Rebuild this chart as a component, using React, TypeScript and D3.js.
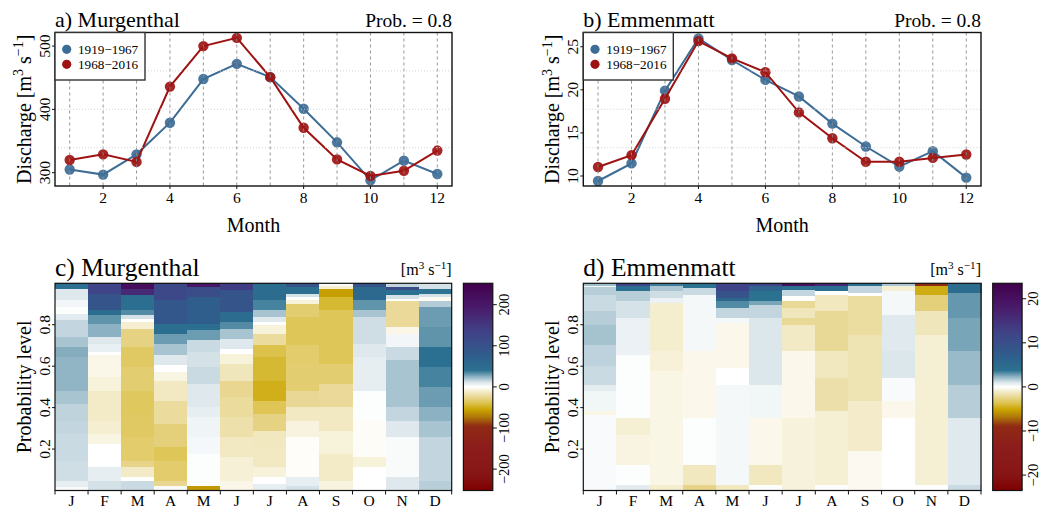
import React from "react";
import * as d3 from "d3";

const FONT = "'Liberation Serif', 'Times New Roman', Times, serif";

// Months for the regime curves and the letters used on the heatmap axis
const months = [1, 2, 3, 4, 5, 6, 7, 8, 9, 10, 11, 12];
const monthLetters = ["J", "F", "M", "A", "M", "J", "J", "A", "S", "O", "N", "D"];
const periods = ["1919\u22121967", "1968\u22122016"];

// Monthly discharge at probability 0.8 [m3 s-1]
const murgEarly = [305, 297, 329, 379, 448, 472, 451, 401, 348, 288, 319, 298];
const murgLate = [320, 329, 317, 436, 500, 513, 451, 371, 321, 295, 303, 335];
const emmeEarly = [9.42, 11.46, 19.9, 25.96, 23.46, 21.15, 19.23, 16.08, 13.42, 11.08, 12.88, 9.81];
const emmeLate = [11.04, 12.42, 18.96, 25.65, 23.65, 22.04, 17.38, 14.38, 11.65, 11.65, 12.1, 12.5];

const murgYTicks = [300, 400, 500];
const emmeYTicks = [10, 15, 20, 25];
const monthTicks = [2, 4, 6, 8, 10, 12];
const probTicks = [0.2, 0.4, 0.6, 0.8];
const murgBarTicks = [-200, -100, 0, 100, 200];
const emmeBarTicks = [-20, -10, 0, 10, 20];

// Change of the monthly quantile (1968-2016 minus 1919-1967), per month as
// [upper probability of the band, change] pairs, bands stacked from 0 upwards
const murgDiff: [number, number][][] = [
  [[0.016, 2], [0.048, 8], [0.145, 13], [0.274, 14], [0.339, 15], [0.419, 16], [0.484, 20], [0.548, 24], [0.645, 24], [0.694, 26], [0.742, 20], [0.823, 15], [0.855, 9], [0.887, 1], [0.919, 4], [0.976, 10], [1.0, 42]],
  [[0.048, 12], [0.113, 8], [0.226, 0], [0.274, -6], [0.339, -10], [0.484, -12], [0.548, -8], [0.653, -5], [0.669, 0], [0.71, 7], [0.742, 10], [0.806, 25], [0.847, 32], [0.871, 48], [0.952, 95], [1.0, 130]],
  [[0.048, 14], [0.065, 0], [0.113, -12], [0.145, -27], [0.258, -33], [0.371, -35], [0.484, -36], [0.597, -32], [0.694, -35], [0.782, -28], [0.815, -10], [0.831, 0], [0.847, 12], [0.871, 34], [0.944, 46], [0.976, 170], [1.0, 220]],
  [[0.024, 2], [0.048, -25], [0.145, -33], [0.21, -37], [0.323, -30], [0.435, -22], [0.532, -13], [0.573, -6], [0.605, 0], [0.653, 10], [0.71, 20], [0.758, 30], [0.806, 46], [0.919, 90], [1.0, 120]],
  [[0.024, -60], [0.048, -2], [0.177, 1], [0.258, 3], [0.355, 5], [0.403, 8], [0.516, 10], [0.597, 14], [0.669, 12], [0.726, 14], [0.774, 30], [0.806, 45], [0.935, 75], [0.984, 110], [1.0, 200]],
  [[0.048, -5], [0.161, -9], [0.258, -13], [0.355, -19], [0.452, -22], [0.532, -25], [0.613, -15], [0.661, -8], [0.685, 0], [0.734, 10], [0.782, 20], [0.815, 34], [0.863, 48], [0.968, 95], [1.0, 140]],
  [[0.032, 8], [0.065, 0], [0.113, -8], [0.21, -13], [0.29, -14], [0.371, -28], [0.435, -38], [0.532, -50], [0.645, -45], [0.702, -40], [0.758, -22], [0.798, -8], [0.815, 0], [0.839, 10], [0.871, 20], [0.919, 36], [1.0, 48]],
  [[0.024, 12], [0.065, 8], [0.258, -1], [0.339, -7], [0.403, -13], [0.484, -24], [0.613, -32], [0.702, -33], [0.839, -37], [0.903, -32], [0.919, -8], [0.935, 0], [0.952, 12], [0.984, 45], [1.0, 95]],
  [[0.048, -7], [0.177, -12], [0.29, -8], [0.403, -13], [0.516, -23], [0.613, -32], [0.871, -37], [0.935, -45], [0.976, -58], [0.99, -10], [1.0, 2]],
  [[0.113, 0], [0.161, -8], [0.339, -2], [0.484, 1], [0.645, 8], [0.71, 10], [0.839, 13], [0.871, 20], [0.919, 32], [0.984, 55], [1.0, 95]],
  [[0.065, 10], [0.258, 2], [0.339, 10], [0.403, 15], [0.629, 20], [0.694, 14], [0.758, 4], [0.79, -5], [0.916, -23], [0.927, 0], [0.944, 12], [0.968, 42], [0.984, 110], [1.0, 15]],
  [[0.048, 17], [0.258, 15], [0.339, 20], [0.403, 25], [0.5, 30], [0.597, 36], [0.694, 43], [0.79, 32], [0.887, 30], [0.916, 18], [0.935, -3], [0.952, 12], [0.976, 40], [1.0, 12]],
];

const emmeDiff: [number, number][][] = [
  [[0.367, 0.2], [0.383, -0.5], [0.48, 0.4], [0.512, 0.8], [0.6, 1.3], [0.705, 1.5], [0.8, 1.9], [0.866, 1.6], [0.947, 1.3], [0.982, 1.6], [0.99, 0.3], [1.0, 2.0]],
  [[0.029, 0.8], [0.126, 0.1], [0.271, -0.6], [0.351, -0.9], [0.657, 0.1], [0.834, 0.6], [0.915, 1.1], [0.966, 1.6], [0.987, 4.0], [1.0, 12]],
  [[0.029, -1.0], [0.576, -0.5], [0.673, -0.8], [0.907, -1.0], [0.931, 0.6], [0.966, 1.2], [0.987, 1.8], [1.0, 3.5]],
  [[0.029, -2.5], [0.126, -1.3], [0.351, 0.1], [0.673, -0.4], [0.947, 0.3], [0.979, 1.3], [1.0, 3.8]],
  [[0.029, -1.3], [0.512, 0.3], [0.593, 0.0], [0.81, -0.4], [0.834, 0.3], [0.882, 1.4], [0.918, 3.2], [0.931, 5.5], [0.963, 9.0], [1.0, 12.0]],
  [[0.029, 0.1], [0.126, -1.3], [0.351, -0.4], [0.512, 0.4], [0.834, 1.0], [0.899, 1.4], [0.915, 2.6], [0.966, 3.8], [0.987, 6.0], [1.0, 12.0]],
  [[0.351, -0.7], [0.673, -0.4], [0.802, -1.2], [0.834, -2.2], [0.882, -1.4], [0.915, -2.2], [0.939, 0.0], [0.971, 1.4], [0.987, 4.0], [1.0, 20.0]],
  [[0.029, 0.1], [0.383, -0.9], [0.544, -1.8], [0.673, -1.3], [0.866, -2.2], [0.947, -1.3], [0.963, 0.0], [0.987, 4.0], [1.0, 16.0]],
  [[0.19, -0.3], [0.432, -1.1], [0.754, -1.6], [0.939, -2.0], [0.955, 0.0], [0.987, 1.4], [1.0, 4.0]],
  [[0.351, 0.0], [0.432, -0.4], [0.544, 0.2], [0.673, 1.0], [0.85, 0.9], [0.963, 0.3], [0.987, -0.9], [1.0, 1.8]],
  [[0.029, 0.0], [0.754, -0.9], [0.866, -1.4], [0.947, -2.8], [0.987, -4.8], [1.0, -9.0]],
  [[0.029, 1.3], [0.351, 0.9], [0.512, 1.6], [0.673, 2.1], [0.834, 2.6], [0.955, 2.9], [1.0, 4.5]],
];

// Diverging palette, stops as a fraction of the symmetric colour limit
const paletteStops = [-1, -0.85, -0.6, -0.38, -0.29, -0.22, -0.16, -0.1, -0.05, 0, 0.04, 0.1, 0.16, 0.29, 0.52, 0.77, 1];
const paletteColors = [
  "#7f0000", "#871515", "#8c1c1c", "#8f2a14", "#b0780a", "#c9a400", "#dcc24a", "#e8d690", "#f2eac5",
  "#ffffff", "#dfe9ed", "#8ab0c1", "#2b7190", "#2f5f8c", "#404388", "#4a1a6a", "#40004b",
];

const BLUE = "#3d6d96";
const RED = "#9e1212";

function Unit({ size }: { size: number }) {
  const sup = size * 0.7;
  const d = size * 0.38;
  return (
    <>
      [m<tspan dy={-d} fontSize={sup}>3</tspan>
      <tspan dy={d}> s</tspan>
      <tspan dy={-d} fontSize={sup}>{"\u22121"}</tspan>
      <tspan dy={d}>]</tspan>
    </>
  );
}

type LineProps = {
  left: number;
  right: number;
  title: string;
  early: number[];
  late: number[];
  yDomain: [number, number];
  yTicks: number[];
};

function LinePanel({ left, right, title, early, late, yDomain, yTicks }: LineProps) {
  const top = 32.5;
  const bottom = 186;
  const x = d3.scaleLinear().domain([0.56, 12.44]).range([left, right]);
  const y = d3.scaleLinear().domain(yDomain).range([bottom, top]);
  const line = d3
    .line<number>()
    .x((_, i) => x(months[i]))
    .y((d) => y(d));
  const hGrid = [0.25, 0.5, 0.75].map((f) => yDomain[0] + f * (yDomain[1] - yDomain[0]));
  const series = [
    { values: early, color: BLUE },
    { values: late, color: RED },
  ];
  const cy = (top + bottom) / 2;
  return (
    <g fontFamily={FONT}>
      <text x={left} y={26.5} fontSize={22}>{title}</text>
      <text x={right} y={26.5} fontSize={19.5} textAnchor="end">Prob. = 0.8</text>

      {series.map((s, k) => (
        <g key={k}>
          <path d={line(s.values) || ""} fill="none" stroke={s.color} strokeWidth={2} />
          {s.values.map((v, i) => (
            <circle key={i} cx={x(months[i])} cy={y(v)} r={5.2} fill={s.color} opacity={0.92} />
          ))}
        </g>
      ))}

      {months.map((m) => (
        <line key={m} x1={x(m)} x2={x(m)} y1={top} y2={bottom} stroke="#8a8a8a" strokeWidth={0.9} strokeDasharray="3,3" />
      ))}
      {hGrid.map((v, i) => (
        <line key={i} x1={left} x2={right} y1={y(v)} y2={y(v)} stroke="#cfcfcf" strokeWidth={0.9} strokeDasharray="1,2" />
      ))}

      <rect x={left} y={top} width={right - left} height={bottom - top} fill="none" stroke="#111" strokeWidth={1.4} />

      {monthTicks.map((m) => (
        <g key={m}>
          <line x1={x(m)} x2={x(m)} y1={bottom} y2={bottom + 3} stroke="#111" />
          <text x={x(m)} y={203} fontSize={15.5} textAnchor="middle">{m}</text>
        </g>
      ))}
      {yTicks.map((t) => (
        <g key={t}>
          <line x1={left - 3} x2={left} y1={y(t)} y2={y(t)} stroke="#111" />
          <text transform={`translate(${left - 5},${y(t)}) rotate(-90)`} fontSize={15.5} textAnchor="middle">{t}</text>
        </g>
      ))}

      <text x={(left + right) / 2} y={231.5} fontSize={20} textAnchor="middle">Month</text>
      <text transform={`translate(${left - 24},${cy}) rotate(-90)`} fontSize={20} textAnchor="middle">
        Discharge <Unit size={20} />
      </text>

      <rect x={left} y={top} width={90} height={47.5} fill="#fff" stroke="#333" strokeWidth={1.4} />
      {series.map((s, k) => (
        <g key={k}>
          <circle cx={left + 11.7} cy={49.3 + k * 15} r={4.6} fill={s.color} />
          <text x={left + 23} y={49.3 + k * 15 + 4.5} fontSize={13.2}>{periods[k]}</text>
        </g>
      ))}
    </g>
  );
}

type HeatProps = {
  id: string;
  left: number;
  right: number;
  title: string;
  diff: [number, number][][];
  limit: number;
  barTicks: number[];
};

function HeatPanel({ id, left, right, title, diff, limit, barTicks }: HeatProps) {
  const top = 283.3;
  const bottom = 490.5;
  const x = d3.scaleBand<number>().domain(d3.range(12)).range([left, right]);
  const y = d3.scaleLinear().domain([0, 1]).range([bottom, top]);
  const color = d3
    .scaleLinear<string>()
    .domain(paletteStops.map((s) => s * limit))
    .range(paletteColors)
    .clamp(true);
  const barLeft = right + 11.7;
  const barWidth = 29.4;
  const bar = d3.scaleLinear().domain([-limit, limit]).range([bottom, top]);
  const bw = x.bandwidth();
  return (
    <g fontFamily={FONT}>
      <defs>
        <linearGradient id={id} x1="0" y1="1" x2="0" y2="0">
          {paletteStops.map((s, i) => (
            <stop key={i} offset={(s + 1) / 2} stopColor={paletteColors[i]} />
          ))}
        </linearGradient>
      </defs>
      <text x={left} y={276} fontSize={25.5}>{title}</text>
      <text x={right} y={275} fontSize={16} textAnchor="end"><Unit size={16} /></text>

      {diff.map((bands, i) =>
        bands.map(([pTop, v], j) => {
          const pLow = j === 0 ? 0 : bands[j - 1][0];
          return (
            <rect
              key={`${i}-${j}`}
              x={x(i)}
              y={y(pTop)}
              width={bw + 0.5}
              height={y(pLow) - y(pTop) + 0.3}
              fill={color(v)}
              shapeRendering="crispEdges"
            />
          );
        })
      )}
      <rect x={left} y={top} width={right - left} height={bottom - top} fill="none" stroke="#111" strokeWidth={1.2} />

      {d3.range(13).map((k) => (
        <line key={k} x1={left + k * bw} x2={left + k * bw} y1={bottom} y2={bottom + 4} stroke="#111" />
      ))}
      {monthLetters.map((m, i) => (
        <text key={i} x={(x(i) || 0) + bw / 2} y={506} fontSize={15.5} textAnchor="middle">{m}</text>
      ))}
      {probTicks.map((t) => (
        <g key={t}>
          <line x1={left - 3} x2={left} y1={y(t)} y2={y(t)} stroke="#111" />
          <text transform={`translate(${left - 5},${y(t)}) rotate(-90)`} fontSize={15.5} textAnchor="middle">{t}</text>
        </g>
      ))}
      <text transform={`translate(${left - 24},${(top + bottom) / 2}) rotate(-90)`} fontSize={20} textAnchor="middle">
        Probability level
      </text>

      <rect x={barLeft} y={top} width={barWidth} height={bottom - top} fill={`url(#${id})`} stroke="#111" strokeWidth={1.2} />
      {barTicks.map((t) => (
        <g key={t}>
          <line x1={barLeft + barWidth} x2={barLeft + barWidth + 4} y1={bar(t)} y2={bar(t)} stroke="#111" />
          <text transform={`translate(${barLeft + barWidth + 16},${bar(t)}) rotate(-90)`} fontSize={14.5} textAnchor="middle">
            {t < 0 ? `\u2212${Math.abs(t)}` : t}
          </text>
        </g>
      ))}
    </g>
  );
}

export default function App() {
  return (
    <svg
      width={1040}
      height={508}
      viewBox="0 0 1040 508"
      style={{ position: "absolute", left: 0, top: 0, background: "#fff" }}
    >
      <rect width={1040} height={508} fill="#fff" />
      <LinePanel left={55} right={452} title="a) Murgenthal" early={murgEarly} late={murgLate} yDomain={[279, 521.5]} yTicks={murgYTicks} />
      <LinePanel left={583.3} right={981} title="b) Emmenmatt" early={emmeEarly} late={emmeLate} yDomain={[8.84, 26.65]} yTicks={emmeYTicks} />
      <HeatPanel id="barMurg" left={55} right={451.7} title="c) Murgenthal" diff={murgDiff} limit={252} barTicks={murgBarTicks} />
      <HeatPanel id="barEmme" left={583.3} right={981} title="d) Emmenmatt" diff={emmeDiff} limit={23.5} barTicks={emmeBarTicks} />
    </svg>
  );
}
